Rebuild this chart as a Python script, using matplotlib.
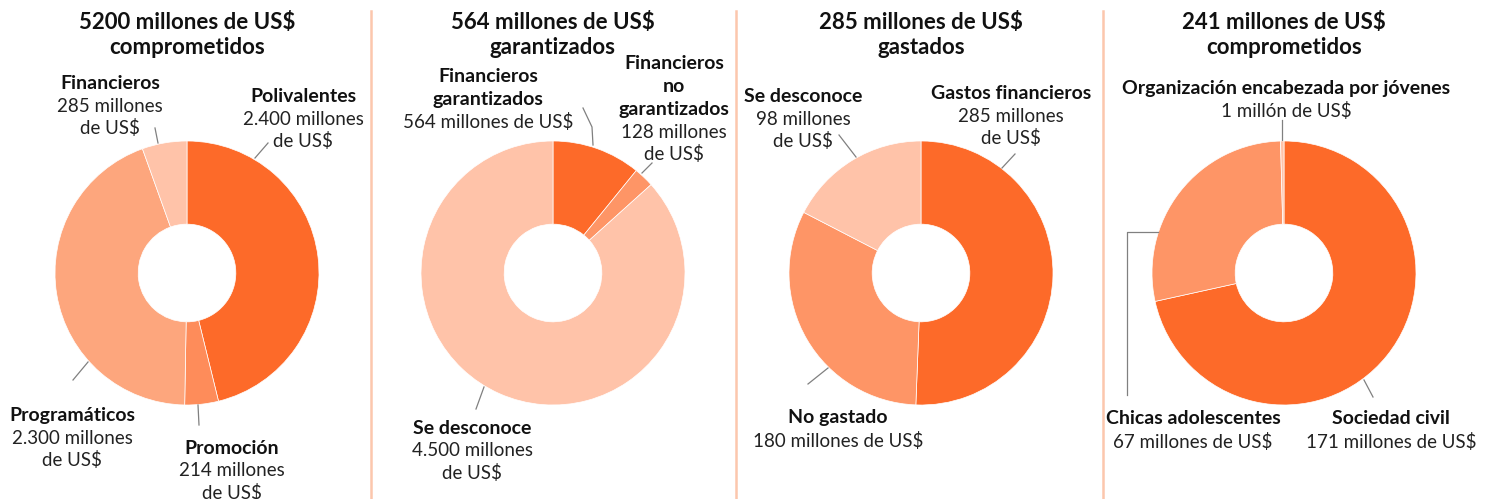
import matplotlib
matplotlib.use("Agg")
from matplotlib import pyplot as plt

# Datos de los cuatro anillos (en millones de US$)
titulos = [
    "5200 millones de US$\ncomprometidos",
    "564 millones de US$\ngarantizados",
    "285 millones de US$\ngastados",
    "241 millones de US$\ncomprometidos",
]

cat1 = ["Polivalentes", "Promoción", "Programáticos", "Financieros"]
val1 = [2400, 214, 2300, 285]

cat2 = ["Financieros garantizados", "Financieros no garantizados", "Se desconoce"]
val2 = [564, 128, 4500]

cat3 = ["Gastos financieros", "No gastado", "Se desconoce"]
val3 = [285, 180, 98]

cat4 = ["Sociedad civil", "Chicas adolescentes", "Organización encabezada por jóvenes"]
val4 = [171, 67, 1]

OSCURO = "#fd6a29"
MEDIO = "#fe9566"
PROMO = "#fe8c5a"
PROG = "#fda67d"
CLARO = "#ffc3a9"

colores = [
    [OSCURO, PROMO, PROG, CLARO],
    [OSCURO, MEDIO, CLARO],
    [OSCURO, MEDIO, CLARO],
    [OSCURO, MEDIO, CLARO],
]

# Etiquetas: (lineas en negrita, lineas normales, x, y de la primera linea) en pixeles
etiquetas = [
    [
        (["Polivalentes"], ["2.400 millones", "de US$"], 303, 96),
        (["Promoción"], ["214 millones", "de US$"], 232, 448),
        (["Programáticos"], ["2.300 millones", "de US$"], 72, 415),
        (["Financieros"], ["285 millones", "de US$"], 110, 83),
    ],
    [
        (["Financieros", "garantizados"], ["564 millones de US$"], 488, 76),
        (["Financieros", "no", "garantizados"], ["128 millones", "de US$"], 674, 63),
        (["Se desconoce"], ["4.500 millones", "de US$"], 472, 428),
    ],
    [
        (["Gastos financieros"], ["285 millones", "de US$"], 1011, 93),
        (["No gastado"], ["180 millones de US$"], 838, 418),
        (["Se desconoce"], ["98 millones", "de US$"], 803, 96),
    ],
    [
        (["Sociedad civil"], ["171 millones de US$"], 1391, 419),
        (["Chicas adolescentes"], ["67 millones de US$"], 1193, 419),
        (["Organización encabezada por jóvenes"], ["1 millón de US$"], 1286, 88),
    ],
]

# Lineas guia (pixeles)
guias = [
    [[(268, 143), (255, 158)], [(198, 405), (199, 425)],
     [(73, 380), (88, 362)], [(155, 128), (158, 143)]],
    [[(583, 108), (592, 127), (593, 145)], [(652, 163), (642, 173)],
     [(476, 409), (484, 387)]],
    [[(1015, 154), (1002, 168)], [(808, 384), (828, 368)],
     [(839, 135), (856, 157)]],
    [[(1373, 397), (1364, 380)], [(1127, 395), (1127, 232), (1158, 232)],
     [(1282, 120), (1282, 140)]],
]

centros_x = [187, 553, 921, 1284]
centro_y = 273
radio = 132
separadores = [371, 736, 1103]

W, H = 1492, 499
plt.rcParams['font.family'] = ['Lato', 'DejaVu Sans']

fig = plt.figure(figsize=(W / 100, H / 100), dpi=100)
ax = fig.add_axes([0, 0, 1, 1])

valores = [val1, val2, val3, val4]
for i, vals in enumerate(valores):
    ax.pie(vals, radius=radio, center=(centros_x[i], H - centro_y),
           startangle=90, counterclock=False, colors=colores[i],
           wedgeprops=dict(width=radio * 0.63, edgecolor="white", linewidth=0.5))

    t1, t2 = titulos[i].split("\n")
    ax.text(centros_x[i], H - 22, t1, ha="center", va="center",
            fontsize=16, fontweight="bold", color="#111111")
    ax.text(centros_x[i], H - 47, t2, ha="center", va="center",
            fontsize=16, fontweight="bold", color="#111111")

    for negritas, normales, x, y in etiquetas[i]:
        yy = y
        for linea in negritas:
            ax.text(x, H - yy, linea, ha="center", va="center", fontsize=14,
                    fontweight="bold", color="#111111")
            yy += 23
        for linea in normales:
            ax.text(x, H - yy, linea, ha="center", va="center", fontsize=13.5,
                    color="#222222")
            yy += 22

    for g in guias[i]:
        ax.plot([p[0] for p in g], [H - p[1] for p in g], color="#808080", lw=0.9)

for sx in separadores:
    ax.plot([sx, sx], [0, H - 11], color="#fcc7ad", lw=1.8)

ax.set_xlim(0, W)
ax.set_ylim(0, H)
ax.set_aspect("auto")
ax.axis("off")

fig.savefig("out.png", dpi=100)
